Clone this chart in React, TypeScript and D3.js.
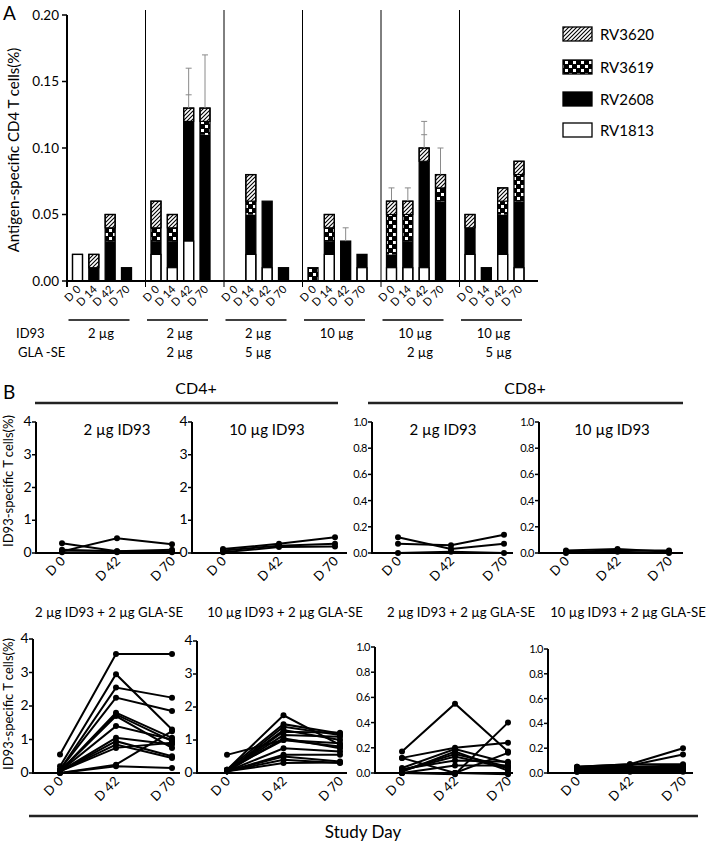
import * as d3 from 'd3'

const W = 710, H = 843
const FONT = "Lato, 'Open Sans', sans-serif"

// ---- Panel A data ----
const days = ['D 0', 'D 14', 'D 42', 'D 70']
const id93Dose = ['2 µg', '2 µg', '2 µg', '10 µg', '10 µg', '10 µg']
const glaDose = ['', '2 µg', '5 µg', '', '2 µg', '5 µg']
const antigens = ['RV1813', 'RV2608', 'RV3619', 'RV3620'] // stack order, bottom to top
const legendOrder = ['RV3620', 'RV3619', 'RV2608', 'RV1813']

// values per group (6) x day (4)
const rv1813 = [0.02, 0, 0, 0, 0.02, 0.01, 0.03, 0, 0, 0.02, 0.01, 0, 0, 0.02, 0, 0.01, 0.01, 0.01, 0.01, 0, 0.02, 0, 0.02, 0.01]
const rv2608 = [0, 0.01, 0.03, 0.01, 0.01, 0.02, 0.09, 0.11, 0, 0.03, 0.05, 0.01, 0, 0.01, 0.03, 0.01, 0.01, 0.02, 0.08, 0.06, 0.02, 0.01, 0.03, 0.05]
const rv3619 = [0, 0, 0.01, 0, 0.01, 0.01, 0, 0.01, 0, 0.01, 0, 0, 0.01, 0.01, 0, 0, 0.03, 0.02, 0, 0.01, 0, 0, 0.01, 0.02]
const rv3620 = [0, 0.01, 0.01, 0, 0.02, 0.01, 0.01, 0.01, 0, 0.02, 0, 0, 0, 0.01, 0, 0, 0.01, 0.01, 0.01, 0.01, 0.01, 0, 0.01, 0.01]
// error bar caps (upper) per bar
const errCaps: number[][] = [
  [], [], [], [],
  [], [], [0.14, 0.16], [0.17],
  [], [], [], [],
  [], [], [0.04], [],
  [0.07], [0.07], [0.11, 0.12], [0.10],
  [], [], [], [],
]
const yTicksA = [0, 0.05, 0.1, 0.15, 0.2]

// ---- Panel B data ---- [D0, D42, D70] per subject
const bDays = ['D 0', 'D 42', 'D 70']
const cd4Id2 = [[0.3, 0.05, 0.05], [0.05, 0.45, 0.27], [0.1, 0.05, 0.1], [0.02, 0.02, 0.02]]
const cd4Id10 = [[0.12, 0.28, 0.48], [0.08, 0.22, 0.28], [0.02, 0.18, 0.2]]
const cd8Id2 = [[0.07, 0.06, 0.14], [0.12, 0.03, 0.07], [0.0, 0.01, 0.0]]
const cd8Id10 = [[0.02, 0.03, 0.01], [0.01, 0.02, 0.02], [0.0, 0.01, 0.0]]
const cd4Id2Gla = [
  [0.55, 3.55, 3.55], [0.2, 2.95, 1.3], [0.1, 2.55, 2.25], [0.1, 2.25, 1.85], [0.05, 1.8, 1.05],
  [0.05, 1.75, 0.95], [0.05, 1.7, 0.75], [0.05, 1.4, 1.0], [0.05, 1.05, 0.85], [0.05, 0.95, 0.5],
  [0.05, 0.85, 0.45], [0.05, 0.75, 0.9], [0.0, 0.25, 1.25], [0.0, 0.2, 0.15],
]
const cd4Id10Gla = [
  [0.55, 1.0, 0.9], [0.1, 1.75, 0.85], [0.1, 1.48, 1.2], [0.05, 1.4, 1.15], [0.05, 1.3, 1.0],
  [0.05, 1.25, 1.22], [0.05, 1.15, 1.1], [0.05, 1.05, 0.75], [0.1, 1.0, 0.8], [0.05, 0.75, 0.65],
  [0.05, 0.55, 0.55], [0.05, 0.5, 0.35], [0.05, 0.4, 0.3], [0.05, 0.3, 0.32],
]
const cd8Id2Gla = [
  [0.17, 0.55, 0.17], [0.12, 0.2, 0.24], [0.12, 0.0, 0.0], [0.04, 0.19, 0.08], [0.02, 0.15, 0.05],
  [0.02, 0.13, 0.04], [0.0, 0.06, 0.06], [0.0, -0.01, 0.4], [0.01, 0.17, 0.02], [0.0, 0.0, 0.16],
  [0.03, 0.1, 0.09], [0.0, 0.0, -0.01],
]
const cd8Id10Gla = [
  [0.05, 0.07, 0.2], [0.04, 0.06, 0.15], [0.05, 0.07, 0.07], [0.04, 0.05, 0.06], [0.03, 0.05, 0.05],
  [0.03, 0.04, 0.04], [0.02, 0.03, 0.03], [0.02, 0.02, 0.02], [0.01, 0.02, 0.02], [0.01, 0.01, 0.01],
]

const fills: Record<string, string> = { RV1813: '#fff', RV2608: '#000', RV3619: 'url(#checker)', RV3620: 'url(#hatch)' }

function PanelA() {
  const y = d3.scaleLinear().domain([0, 0.2]).range([281, 15])
  const gx = d3.scaleBand<number>().domain(d3.range(6)).range([67, 538])
  const dx = d3.scalePoint<string>().domain(days).range([10.5, 59.5])
  const bw = 10
  const rows = d3.range(24).map((i) => ({ RV1813: rv1813[i], RV2608: rv2608[i], RV3619: rv3619[i], RV3620: rv3620[i] }))
  const stacked = d3.stack<any>().keys(antigens)(rows)
  const cx = (i: number) => gx(Math.floor(i / 4))! + dx(days[i % 4])!
  const total = (i: number) => rv1813[i] + rv2608[i] + rv3619[i] + rv3620[i]

  return (
    <g>
      <text x={3} y={20} fontSize={19}>A</text>
      {/* separators */}
      {d3.range(1, 6).map((g) => (
        <line key={g} x1={gx(g)} x2={gx(g)} y1={10} y2={287} stroke="#000" strokeWidth={1} />
      ))}
      {/* bars */}
      {stacked.map((s) => s.map((d, i) => d[1] > d[0] ? (
        <rect key={s.key + i} x={cx(i) - bw / 2} y={y(d[1])} width={bw} height={y(d[0]) - y(d[1])} fill={fills[s.key]} />
      ) : null))}
      {d3.range(24).map((i) => total(i) > 0 ? (
        <rect key={'o' + i} x={cx(i) - bw / 2} y={y(total(i))} width={bw} height={y(0) - y(total(i))} fill="none" stroke="#000" strokeWidth={1.3} />
      ) : null)}
      {/* segment borders for white/hatch */}
      {stacked.map((s) => (s.key === 'RV1813' || s.key === 'RV3620') ? s.map((d, i) => d[1] > d[0] ? (
        <rect key={'b' + s.key + i} x={cx(i) - bw / 2} y={y(d[1])} width={bw} height={y(d[0]) - y(d[1])} fill="none" stroke="#000" strokeWidth={1.2} />
      ) : null) : null)}
      {/* error bars */}
      {errCaps.map((caps, i) => caps.length ? (
        <g key={'e' + i} stroke="#8a8a8a" strokeWidth={1}>
          <line x1={cx(i)} x2={cx(i)} y1={y(total(i))} y2={y(d3.max(caps)!)} />
          {caps.map((c, k) => <line key={k} x1={cx(i) - 3} x2={cx(i) + 3} y1={y(c)} y2={y(c)} />)}
        </g>
      ) : null)}
      {/* axes */}
      <line x1={67} x2={538} y1={y(0)} y2={y(0)} stroke="#000" strokeWidth={2} />
      <line x1={67} x2={67} y1={y(0.2)} y2={287} stroke="#000" strokeWidth={2} />
      {yTicksA.map((t) => (
        <g key={t}>
          <line x1={62} x2={67} y1={y(t)} y2={y(t)} stroke="#000" strokeWidth={1.5} />
          <text x={59} y={y(t) + 4.5} fontSize={13.5} textAnchor="end">{t.toFixed(2)}</text>
        </g>
      ))}
      <text transform={`translate(19,${(y(0) + y(0.2)) / 2 + 2}) rotate(-90)`} fontSize={15} textAnchor="middle">Antigen-specific CD4 T cells(%)</text>
      {/* day labels */}
      {d3.range(24).map((i) => (
        <text key={'d' + i} transform={`translate(${cx(i) + 4},${290}) rotate(-45)`} fontSize={11} textAnchor="end">{days[i % 4]}</text>
      ))}
      {/* group underlines and doses */}
      {d3.range(6).map((g) => {
        const x1 = cx(g * 4) - bw / 2 - 4
        const x2 = cx(g * 4 + 3) + bw / 2 - 2
        const mid = (x1 + x2) / 2 + 2
        return (
          <g key={'g' + g}>
            <line x1={x1} x2={x2} y1={320} y2={320} stroke="#000" strokeWidth={1.3} />
            <text x={mid} y={338} fontSize={13} textAnchor="middle">{id93Dose[g]}</text>
            <text x={mid + (g >= 4 ? 5 : 0)} y={357} fontSize={13} textAnchor="middle">{glaDose[g]}</text>
          </g>
        )
      })}
      <text x={16} y={338} fontSize={13}>ID93</text>
      <text x={18} y={357} fontSize={13}>GLA -SE</text>
      {/* legend */}
      {legendOrder.map((k, i) => {
        const cy = [34, 67, 99, 130][i]
        return (
          <g key={k}>
            <rect x={563} y={cy - 7} width={29} height={14} fill={fills[k]} stroke="#000" strokeWidth={1.3} />
            <text x={600} y={cy + 5.5} fontSize={15}>{k}</text>
          </g>
        )
      })}
    </g>
  )
}

type PanelCfg = {
  ax: number; x0: number; x1: number; end: number; top: number; bottom: number
  max: number; ticks: number[]; fmt: (v: number) => string; tickFont: number
  title: string; titleX: number; titleY: number; titleFont: number; data: number[][]
}

function SmallPanel({ c }: { c: PanelCfg }) {
  const y = d3.scaleLinear().domain([0, c.max]).range([c.bottom, c.top])
  const x = d3.scalePoint<string>().domain(bDays).range([c.x0, c.x1])
  const line = d3.line<number>().x((_, i) => x(bDays[i])!).y((v) => y(v))
  return (
    <g>
      <text x={c.titleX} y={c.titleY} fontSize={c.titleFont} textAnchor="middle">{c.title}</text>
      {c.data.map((s, i) => (
        <g key={i}>
          <path d={line(s)!} fill="none" stroke="#000" strokeWidth={2} />
          {s.map((v, k) => <circle key={k} cx={x(bDays[k])} cy={y(v)} r={3} fill="#000" />)}
        </g>
      ))}
      <line x1={c.ax} x2={c.end} y1={c.bottom} y2={c.bottom} stroke="#000" strokeWidth={2} />
      <line x1={c.ax} x2={c.ax} y1={c.top} y2={c.bottom + 1} stroke="#000" strokeWidth={2} />
      {c.ticks.map((t) => (
        <g key={t}>
          <line x1={c.ax - 4} x2={c.ax} y1={y(t)} y2={y(t)} stroke="#000" strokeWidth={1.5} />
          <text x={c.ax - 5} y={y(t) + 4} fontSize={c.tickFont} textAnchor="end" letterSpacing={-0.5}>{c.fmt(t)}</text>
        </g>
      ))}
      {bDays.map((d) => (
        <text key={d} transform={`translate(${x(d)! + 4},${c.bottom + 9}) rotate(-45)`} fontSize={13} textAnchor="end">{d}</text>
      ))}
    </g>
  )
}

export default function App() {
  const fmtInt = (v: number) => d3.format('d')(v)
  const fmt1 = (v: number) => d3.format('.1f')(v)
  const t4 = [0, 1, 2, 3, 4]
  const t1 = [0, 0.2, 0.4, 0.6, 0.8, 1.0]
  const r1 = { top: 422, bottom: 553, titleY: 435, titleFont: 15 }
  const r2 = { bottom: 773, titleY: 617, titleFont: 13.2 }
  const panels: PanelCfg[] = [
    { ...r1, ax: 36, x0: 62, x1: 172, end: 180, max: 4, ticks: t4, fmt: fmtInt, tickFont: 14, title: '2 µg  ID93', titleX: 117, data: cd4Id2 },
    { ...r1, ax: 192, x0: 223, x1: 335, end: 347, max: 4, ticks: t4, fmt: fmtInt, tickFont: 14, title: '10 µg  ID93', titleX: 267, data: cd4Id10 },
    { ...r1, ax: 372, x0: 398, x1: 504, end: 513, max: 1, ticks: t1, fmt: fmt1, tickFont: 11, title: '2 µg  ID93', titleX: 443, data: cd8Id2 },
    { ...r1, ax: 539, x0: 566, x1: 669, end: 683, max: 1, ticks: t1, fmt: fmt1, tickFont: 11, title: '10 µg  ID93', titleX: 612, data: cd8Id10 },
    { ...r2, top: 639, ax: 33, x0: 60, x1: 172, end: 180, max: 4, ticks: t4, fmt: fmtInt, tickFont: 14, title: '2 µg ID93 + 2 µg GLA-SE', titleX: 109, data: cd4Id2Gla },
    { ...r2, top: 641, ax: 197, x0: 227, x1: 340, end: 347, max: 4, ticks: t4, fmt: fmtInt, tickFont: 14, title: '10 µg ID93 + 2 µg GLA-SE', titleX: 285, data: cd4Id10Gla },
    { ...r2, top: 647, ax: 375, x0: 402, x1: 508, end: 513, max: 1, ticks: t1, fmt: fmt1, tickFont: 11, title: '2 µg ID93 + 2 µg GLA-SE', titleX: 461, data: cd8Id2Gla },
    { ...r2, top: 649, ax: 548, x0: 577, x1: 683, end: 693, max: 1, ticks: t1, fmt: fmt1, tickFont: 11, title: '10 µg ID93 + 2 µg GLA-SE', titleX: 628, data: cd8Id10Gla },
  ]

  return (
    <svg width={W} height={H} viewBox={`0 0 ${W} ${H}`} style={{ position: 'absolute', left: 0, top: 0, background: '#fff' }} fontFamily={FONT}>
      <defs>
        <pattern id="hatch" patternUnits="userSpaceOnUse" width={4} height={4}>
          <rect width={4} height={4} fill="#fff" />
          <path d="M-1,1 l2,-2 M0,4 l4,-4 M3,5 l2,-2" stroke="#000" strokeWidth={1.1} />
        </pattern>
        <pattern id="checker" patternUnits="userSpaceOnUse" width={8} height={8}>
          <rect width={8} height={8} fill="#000" />
          <rect x={1} y={1} width={3} height={3} fill="#fff" />
          <rect x={5} y={5} width={3} height={3} fill="#fff" />
        </pattern>
      </defs>
      <rect width={W} height={H} fill="#fff" />
      <PanelA />
      {/* panel B */}
      <text x={3} y={399} fontSize={19}>B</text>
      <text x={196} y={394} fontSize={16} textAnchor="middle">CD4+</text>
      <text x={525} y={394} fontSize={16} textAnchor="middle">CD8+</text>
      <line x1={35} x2={338} y1={403} y2={403} stroke="#222" strokeWidth={2.5} />
      <line x1={368} x2={683} y1={403} y2={403} stroke="#222" strokeWidth={2.5} />
      <text transform="translate(13,481) rotate(-90)" fontSize={13} textAnchor="middle">ID93-specific T cells(%)</text>
      <text transform="translate(13,704) rotate(-90)" fontSize={13} textAnchor="middle">ID93-specific T cells(%)</text>
      {panels.map((c, i) => <SmallPanel key={i} c={c} />)}
      <line x1={29} x2={698} y1={816} y2={816} stroke="#222" strokeWidth={2.5} />
      <text x={363} y={838} fontSize={17} textAnchor="middle">Study Day</text>
    </svg>
  )
}
